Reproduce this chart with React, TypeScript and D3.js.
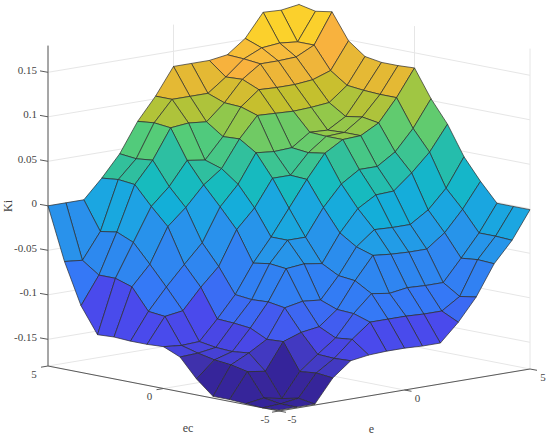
import React from 'react';
import * as d3 from 'd3';

// Ki values, one list per e grid line, ec running from 5 down to -5
const kiE0 = [0, -0.059, -0.105, -0.134, -0.133, -0.134, -0.134, -0.133, -0.141, -0.162, -0.178, -0.178, -0.179, -0.18, -0.179];
const kiE1 = [0, -0.061, -0.074, -0.074, -0.08, -0.104, -0.106, -0.135, -0.14, -0.144, -0.146, -0.15, -0.176, -0.179, -0.179];
const kiE2 = [0, -0.032, -0.029, -0.037, -0.058, -0.08, -0.103, -0.134, -0.137, -0.138, -0.136, -0.153, -0.18, -0.176, -0.179];
const kiE3 = [0.021, 0.023, 0.021, 0, -0.019, -0.058, -0.08, -0.112, -0.113, -0.115, -0.124, -0.123, -0.153, -0.151, -0.153];
const kiE4 = [0.045, 0.043, 0.045, 0.019, -0.001, -0.037, -0.06, -0.088, -0.09, -0.089, -0.092, -0.116, -0.137, -0.138, -0.137];
const kiE5 = [0.078, 0.08, 0.078, 0.045, 0.021, 0, -0.022, -0.056, -0.053, -0.055, -0.088, -0.113, -0.122, -0.12, -0.134];
const kiE6 = [0.103, 0.103, 0.08, 0.042, 0.036, 0.022, -0.001, -0.03, -0.03, -0.053, -0.09, -0.097, -0.098, -0.104, -0.133];
const kiE7 = [0.133, 0.103, 0.078, 0.065, 0.066, 0.054, 0.029, -0.001, -0.03, -0.056, -0.066, -0.068, -0.079, -0.104, -0.133];
const kiE8 = [0.133, 0.103, 0.096, 0.095, 0.089, 0.052, 0.029, 0.028, 0, -0.025, -0.037, -0.043, -0.082, -0.104, -0.134];
const kiE9 = [0.133, 0.118, 0.119, 0.111, 0.088, 0.053, 0.051, 0.054, 0.023, -0.001, -0.021, -0.045, -0.079, -0.105, -0.134];
const kiE10 = [0.136, 0.135, 0.133, 0.11, 0.087, 0.067, 0.066, 0.066, 0.036, 0.011, -0.022, -0.046, -0.08, -0.105, -0.114];
const kiE11 = [0.151, 0.144, 0.133, 0.11, 0.088, 0.066, 0.067, 0.067, 0.036, 0.012, -0.022, -0.046, -0.08, -0.092, -0.089];
const kiE12 = [0.177, 0.146, 0.134, 0.112, 0.09, 0.078, 0.081, 0.078, 0.049, 0.029, -0.009, -0.031, -0.056, -0.054, -0.055];
const kiE13 = [0.176, 0.144, 0.144, 0.119, 0.106, 0.104, 0.103, 0.103, 0.072, 0.049, 0.012, -0.008, -0.031, -0.031, -0.032];
const kiE14 = [0.179, 0.175, 0.178, 0.149, 0.135, 0.132, 0.132, 0.133, 0.102, 0.077, 0.044, 0.02, -0.001, -0.001, -0.001];
const kiRows = [kiE0, kiE1, kiE2, kiE3, kiE4, kiE5, kiE6, kiE7, kiE8, kiE9, kiE10, kiE11, kiE12, kiE13, kiE14];

const kiTicks = [-0.15, -0.1, -0.05, 0, 0.05, 0.1, 0.15];
const planeTicks = [-5, 0, 5];
const colorPositions = [0, 0.03, 0.128, 0.208, 0.33, 0.397, 0.447, 0.5, 0.556, 0.625, 0.68, 0.744, 0.786, 0.83, 0.87, 0.9, 1];
const colorStops = ['#35249a', '#3c2a9c', '#4a4aec', '#3578f6', '#2a90ec', '#1ea2e4', '#13afd8', '#17bbbe', '#2ebfa0', '#55cc78', '#90c84c', '#c4c02e', '#e4b934', '#f8b23e', '#f7bb3c', '#fbd02c', '#f9fb15'];

const width = 550;
const height = 438;
const kiMin = -0.18;
const kiMax = 0.18;

// viewing directions of the box, the front corner (e=-5, ec=-5, Ki=min) is at 279,411
const eX = d3.scaleLinear().domain([-5, 5]).range([0, 251]);
const eY = d3.scaleLinear().domain([-5, 5]).range([0, -42]);
const ecX = d3.scaleLinear().domain([-5, 5]).range([0, -231]);
const ecY = d3.scaleLinear().domain([-5, 5]).range([0, -45]);
const kiY = d3.scaleLinear().domain([kiMin, kiMax]).range([0, -320.4]);

const project = (e: number, ec: number, ki: number): [number, number] => [
  279 + eX(e) + ecX(ec),
  411 + eY(e) + ecY(ec) + kiY(ki),
];

const gridIndex = d3.scaleLinear().domain([0, kiRows.length - 1]).range([-5, 5]);
const colorMap = d3
  .scaleLinear<string>()
  .domain(colorPositions.map((t) => kiMin + t * (kiMax - kiMin)))
  .range(colorStops);

const outline = d3.line().curve(d3.curveLinearClosed);
const segment = d3.line();
const n = kiRows.length;

// rows list ec from 5 down, so ec index j sits at n-1-j
const vertex = (i: number, j: number) => project(gridIndex(i), gridIndex(j), kiRows[i][n - 1 - j]);

const faces: { d: string; fill: string }[] = [];
for (let i = n - 2; i >= 0; i--) {
  for (let j = n - 2; j >= 0; j--) {
    faces.push({
      d: outline([vertex(i, j), vertex(i + 1, j), vertex(i + 1, j + 1), vertex(i, j + 1)]) as string,
      fill: colorMap(kiRows[i][n - 1 - j]),
    });
  }
}

const gridColor = '#e6e6e6';
const axisColor = '#5a5a5a';
const textColor = '#444';

const App = () => {
  const leftBottom = project(-5, 5, kiMin);
  const leftTop = project(-5, 5, kiMax);
  const rightBottom = project(5, -5, kiMin);
  const front = project(-5, -5, kiMin);

  return (
    <svg
      width={width}
      height={height}
      style={{ position: 'absolute', left: 0, top: 0, background: '#fff', fontFamily: "'Liberation Serif', serif" }}
      fontSize={11}
      fill={textColor}
    >
      {/* back walls and floor grid */}
      <g stroke={gridColor} strokeWidth={1} fill="none">
        {kiTicks.map((t) => (
          <g key={t}>
            <path d={segment([project(-5, 5, t), project(5, 5, t)]) as string} />
            <path d={segment([project(5, -5, t), project(5, 5, t)]) as string} />
          </g>
        ))}
        {planeTicks.map((t) => (
          <g key={t}>
            <path d={segment([project(t, 5, kiMin), project(t, 5, kiMax)]) as string} />
            <path d={segment([project(5, t, kiMin), project(5, t, kiMax)]) as string} />
            <path d={segment([project(t, -5, kiMin), project(t, 5, kiMin)]) as string} />
            <path d={segment([project(-5, t, kiMin), project(5, t, kiMin)]) as string} />
          </g>
        ))}
      </g>

      {/* axes */}
      <g stroke={axisColor} strokeWidth={1} fill="none">
        <path d={segment([leftBottom, leftTop]) as string} />
        <path d={segment([leftBottom, front]) as string} />
        <path d={segment([rightBottom, front]) as string} />
        {kiTicks.map((t) => {
          const [x, y] = project(-5, 5, t);
          return <path key={t} d={segment([[x, y], [x - 8, y - 1.4]]) as string} />;
        })}
        {planeTicks.map((t) => {
          const [x, y] = project(-5, t, kiMin);
          return <path key={t} d={segment([[x, y], [x - 7, y + 1.2]]) as string} />;
        })}
        {planeTicks.map((t) => {
          const [x, y] = project(t, -5, kiMin);
          return <path key={t} d={segment([[x, y], [x + 7, y + 1.3]]) as string} />;
        })}
      </g>

      {/* surface */}
      <g stroke="#2b2b2b" strokeWidth={0.7} strokeLinejoin="round">
        {faces.map((f, i) => (
          <path key={i} d={f.d} fill={f.fill} />
        ))}
      </g>

      {/* tick labels */}
      {kiTicks.map((t) => {
        const [x, y] = project(-5, 5, t);
        return (
          <text key={t} x={x - 11} y={y - 1} textAnchor="end" dominantBaseline="middle">
            {t}
          </text>
        );
      })}
      {planeTicks.map((t) => {
        const [x, y] = project(-5, t, kiMin);
        return (
          <text key={t} x={x - 14} y={y + 9} textAnchor="middle" dominantBaseline="middle">
            {t}
          </text>
        );
      })}
      {planeTicks.map((t) => {
        const [x, y] = project(t, -5, kiMin);
        return (
          <text key={t} x={x + 13} y={y + 9} textAnchor="middle" dominantBaseline="middle">
            {t}
          </text>
        );
      })}

      {/* axis titles */}
      <text x={188} y={429} fontSize={12} textAnchor="middle" dominantBaseline="middle">ec</text>
      <text x={371.5} y={430} fontSize={12} textAnchor="middle" dominantBaseline="middle">e</text>
      <text
        transform="translate(9,206) rotate(-90)"
        fontSize={12}
        textAnchor="middle"
        dominantBaseline="middle"
      >
        Ki
      </text>
    </svg>
  );
};

export default App;
